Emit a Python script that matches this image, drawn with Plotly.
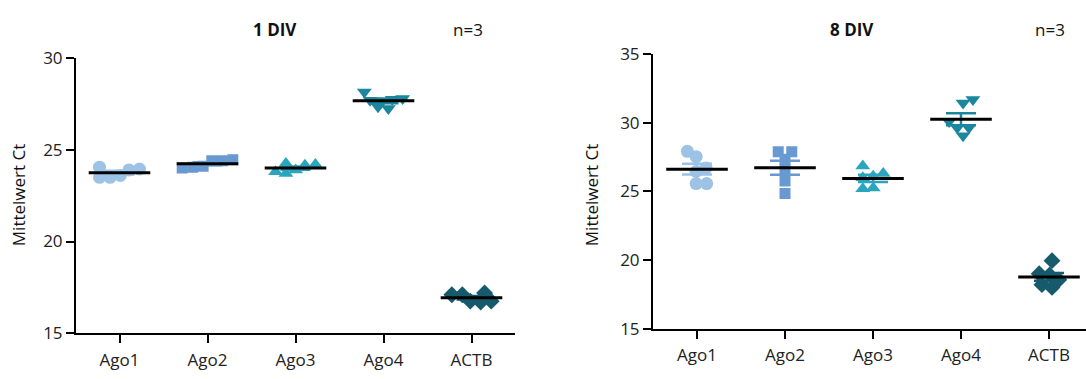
import numpy as np
import plotly.graph_objects as go

# ---------------- data ----------------
categories = ["Ago1", "Ago2", "Ago3", "Ago4", "ACTB"]

div1_ago1 = [23.9, 23.5, 23.95, 23.5, 24.05, 23.6]
div1_ago2 = [24.4, 24.05, 24.45, 24.0, 24.4, 24.1]
div1_ago3 = [24.15, 24.2, 24.25, 23.7, 23.8, 23.9]
div1_ago4 = [27.75, 27.7, 27.8, 28.15, 27.25, 27.35]
div1_actb = [17.1, 17.2, 17.1, 16.75, 16.7, 16.75]

div8_ago1 = [27.92, 27.53, 25.57, 25.57, 26.45, 26.7]
div8_ago2 = [27.9, 27.9, 24.85, 25.75, 26.6, 27.35]
div8_ago3 = [26.85, 26.3, 26.0, 25.2, 25.25, 26.1]
div8_ago4 = [31.45, 31.7, 29.65, 29.05, 29.65, 30.1]
div8_actb = [19.95, 19.0, 18.9, 18.55, 18.2, 18.0]

panel_titles = ["1 DIV", "8 DIV"]
n_label = "n=3"
y_title = "Mittelwert Ct"

# ---------------- styles ----------------
colors = ["#9cc2e6", "#6899d0", "#2aa5bd", "#1a879e", "#165a6b"]
symbols = ["circle", "square", "triangle-up", "triangle-down", "diamond"]
sizes = [13, 11, 13, 13, 13]

W, H = 1086, 379
FONT = "Open Sans"


def swarm(vals, ppu_y, ppu_x, diam):
    vals = np.asarray(vals, float)
    order = np.argsort(vals)
    placed = []
    offs = np.zeros(len(vals))
    for i in order:
        y = vals[i] * ppu_y
        cands = [0.0]
        for (px, py) in placed:
            dy = abs(py - y)
            if dy < diam:
                dx = np.sqrt(diam ** 2 - dy ** 2)
                cands += [px + dx, px - dx]
        cands = sorted(set(round(c, 4) for c in cands), key=lambda c: (abs(c), -c))
        for c in cands:
            ok = all((c - px) ** 2 + (y - py) ** 2 >= diam ** 2 - 1e-6 for px, py in placed)
            if ok:
                break
        placed.append((c, y))
        offs[i] = c
    offs = offs - (offs.max() + offs.min()) / 2.0
    return offs / ppu_x


# pixel geometry (measured from reference)
L_AX, L_C0, L_SP = 76, 119.5, 88.0
R_AX, R_C0, R_SP = 653, 697, 88.0
L_TOP, L_BOT = 49, 342
R_TOP, R_BOT = 45, 337

fig = go.Figure()

panels = [
    dict(data=[div1_ago1, div1_ago2, div1_ago3, div1_ago4, div1_actb],
         xa="x", ya="y", ppu_y=(L_BOT - L_TOP) / 15.0, ppu_x=L_SP),
    dict(data=[div8_ago1, div8_ago2, div8_ago3, div8_ago4, div8_actb],
         xa="x2", ya="y2", ppu_y=(R_BOT - R_TOP) / 20.0, ppu_x=R_SP),
]

for p in panels:
    for i, vals in enumerate(p["data"]):
        offs = swarm(vals, p["ppu_y"], p["ppu_x"], 10.5)
        fig.add_trace(go.Scatter(
            x=i + offs, y=vals, mode="markers", xaxis=p["xa"], yaxis=p["ya"],
            marker=dict(symbol=symbols[i], size=sizes[i], color=colors[i], line=dict(width=0)),
            showlegend=False, hoverinfo="skip"))
    for i, vals in enumerate(p["data"]):
        v = np.asarray(vals, float)
        m = v.mean()
        sem = v.std(ddof=1) / np.sqrt(len(v))
        fig.add_trace(go.Scatter(
            x=[i], y=[m], mode="markers", xaxis=p["xa"], yaxis=p["ya"],
            marker=dict(size=1, color="rgba(0,0,0,0)"),
            error_y=dict(type="data", array=[sem], color=colors[i], thickness=2.5, width=15),
            showlegend=False, hoverinfo="skip"))
        fig.add_trace(go.Scatter(
            x=[i - 0.35, i + 0.35], y=[m, m], mode="lines", xaxis=p["xa"], yaxis=p["ya"],
            line=dict(color="black", width=3),
            showlegend=False, hoverinfo="skip"))

axis_common = dict(showline=True, linecolor="black", linewidth=2, ticks="outside",
                   ticklen=8, tickwidth=2, tickcolor="black", showgrid=False, zeroline=False,
                   tickfont=dict(family=FONT, size=17, color="#222"))

l_lo = (L_AX - L_C0) / L_SP
l_hi = 4 - l_lo
l_end = L_C0 + l_hi * L_SP
r_lo = (R_AX - R_C0) / R_SP
r_hi = (W - R_C0) / R_SP

fig.update_layout(
    width=W, height=H, margin=dict(l=0, r=0, t=0, b=0),
    paper_bgcolor="white", plot_bgcolor="white",
    xaxis=dict(domain=[L_AX / W, l_end / W], range=[l_lo, l_hi], tickvals=list(range(5)),
               ticktext=categories, anchor="y", ticklabelstandoff=2, **axis_common),
    yaxis=dict(domain=[1 - L_BOT / H, 1 - L_TOP / H], range=[15, 30], tickvals=[15, 20, 25, 30],
               anchor="x", **axis_common),
    xaxis2=dict(domain=[R_AX / W, 1.0], range=[r_lo, r_hi], tickvals=list(range(5)),
                ticktext=categories, anchor="y2", ticklabelstandoff=2, **axis_common),
    yaxis2=dict(domain=[1 - R_BOT / H, 1 - R_TOP / H], range=[15, 35], tickvals=[15, 20, 25, 30, 35],
                anchor="x2", **axis_common),
)

ann = []
for title, tx, nx, yx in [(panel_titles[0], 275, 468, 18), (panel_titles[1], 852, 1050, 591)]:
    ann.append(dict(text="<b>%s</b>" % title, x=tx / W, y=1 - 19 / H, xref="paper", yref="paper",
                    showarrow=False, font=dict(family=FONT, size=17, color="#111"),
                    xanchor="center", yanchor="middle"))
    ann.append(dict(text=n_label, x=nx / W, y=1 - 19 / H, xref="paper", yref="paper",
                    showarrow=False, font=dict(family=FONT, size=17, color="#111"),
                    xanchor="center", yanchor="middle"))
    ann.append(dict(text=y_title, x=yx / W, y=1 - 195 / H, xref="paper", yref="paper",
                    showarrow=False, textangle=-90, font=dict(family=FONT, size=17, color="#111"),
                    xanchor="center", yanchor="middle"))
fig.update_layout(annotations=ann)

fig.write_html("out.html", config={"displayModeBar": False},
               post_script="document.body.style.margin='0';")
